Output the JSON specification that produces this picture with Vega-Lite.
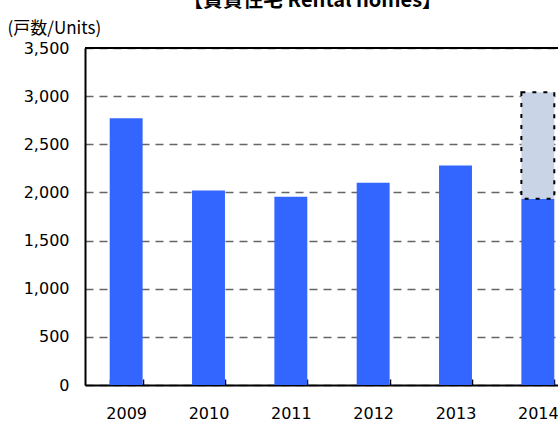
{
  "$schema": "https://vega.github.io/schema/vega-lite/v6.json",
  "width": 473,
  "height": 337,
  "autosize": {"type": "none"},
  "padding": {"left": 85, "top": 48, "right": 0, "bottom": 41},
  "background": "white",
  "title": {
    "text": "【賃貸住宅 Rental homes】",
    "font": "Noto Sans CJK JP",
    "fontSize": 20,
    "fontWeight": "bold",
    "color": "black",
    "anchor": "start",
    "frame": "group",
    "dx": 98,
    "offset": 0,
    "baseline": "alphabetic",
    "dy": 8
  },
  "config": {
    "view": {"stroke": null},
    "font": "DejaVu Sans"
  },
  "data": {
    "values": [
      {"year": "2009", "top": 2770, "base": 0, "kind": "actual"},
      {"year": "2010", "top": 2020, "base": 0, "kind": "actual"},
      {"year": "2011", "top": 1955, "base": 0, "kind": "actual"},
      {"year": "2012", "top": 2100, "base": 0, "kind": "actual"},
      {"year": "2013", "top": 2280, "base": 0, "kind": "actual"},
      {"year": "2014", "top": 1935, "base": 0, "kind": "actual"},
      {"year": "2014", "top": 3040, "base": 1935, "kind": "plan"}
    ]
  },
  "layer": [
    {
      "mark": {"type": "bar", "strokeWidth": 2},
      "encoding": {
        "x": {
          "field": "year",
          "type": "ordinal",
          "scale": {"range": [0, 494], "paddingInner": 0.6, "paddingOuter": 0.3},
          "axis": {
            "title": null,
            "labelAngle": 0,
            "labelFont": "DejaVu Sans",
            "labelFontSize": 16,
            "labelColor": "black",
            "labelPadding": 26,
            "domainColor": "black",
            "domainWidth": 2,
            "ticks": true,
            "tickBand": "extent",
            "tickSize": -6,
            "tickColor": "black",
            "tickWidth": 1.5
          }
        },
        "y": {
          "field": "top",
          "type": "quantitative",
          "scale": {"domain": [0, 3500], "nice": false},
          "axis": {
            "values": [0, 500, 1000, 1500, 2000, 2500, 3000, 3500],
            "format": ",d",
            "title": "(戸数/Units)",
            "titleFont": "Noto Sans CJK JP",
            "titleAngle": 0,
            "titleAlign": "left",
            "titleBaseline": "alphabetic",
            "titleX": -78,
            "titleY": -15,
            "titleFontSize": 17,
            "titleFontWeight": "normal",
            "titleColor": "black",
            "labelFont": "DejaVu Sans",
            "labelFontSize": 16,
            "labelColor": "black",
            "labelPadding": 16,
            "ticks": false,
            "domainColor": "black",
            "domainWidth": 2,
            "grid": true,
            "gridColor": "#666666",
            "gridWidth": 1.5,
            "gridDash": [8, 6]
          }
        },
        "y2": {"field": "base"},
        "color": {
          "field": "kind",
          "type": "nominal",
          "scale": {"domain": ["actual", "plan"], "range": ["#3366FF", "#C9D4E7"]},
          "legend": null
        },
        "stroke": {
          "field": "kind",
          "type": "nominal",
          "scale": {"domain": ["actual", "plan"], "range": ["rgba(0,0,0,0)", "black"]},
          "legend": null
        },
        "strokeDash": {
          "field": "kind",
          "type": "nominal",
          "scale": {"domain": ["actual", "plan"], "range": [[1, 0], [4, 7]]},
          "legend": null
        }
      }
    },
    {
      "mark": {"type": "rule", "color": "black", "strokeWidth": 2},
      "encoding": {"y": {"datum": 3500}}
    }
  ]
}
